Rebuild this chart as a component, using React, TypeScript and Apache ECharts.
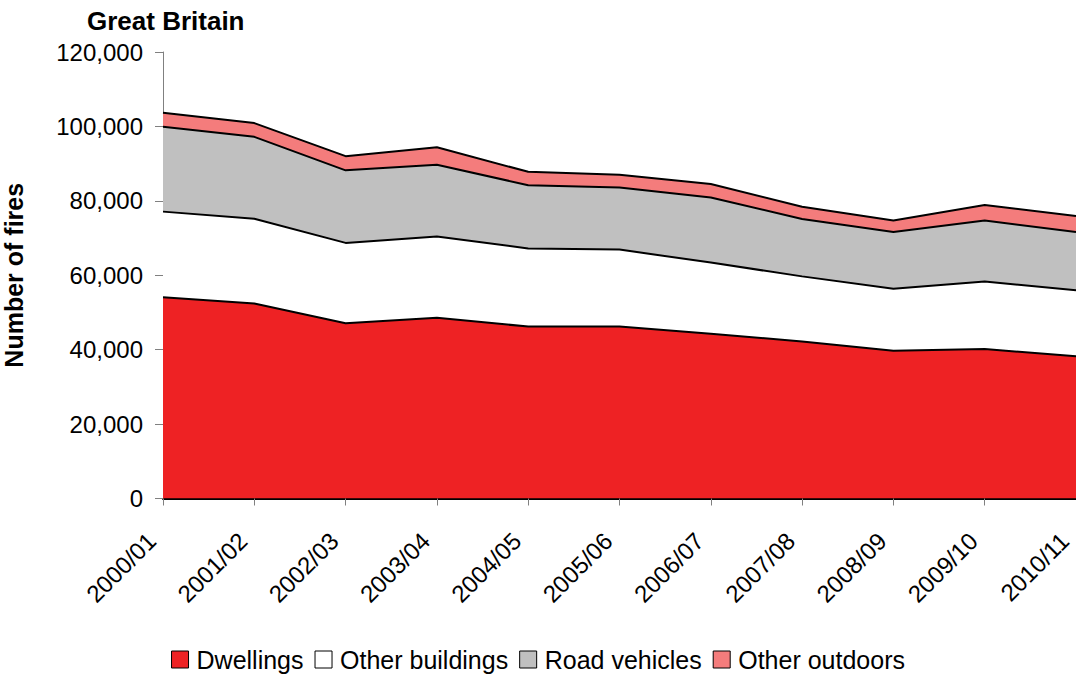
import React, { useEffect, useRef } from "react";
import * as echarts from "echarts";

const categories = ["2000/01", "2001/02", "2002/03", "2003/04", "2004/05", "2005/06", "2006/07", "2007/08", "2008/09", "2009/10", "2010/11"];
const dwellings = [54100, 52400, 47100, 48600, 46200, 46200, 44300, 42200, 39700, 40200, 38200];
const otherBuildings = [23000, 22800, 21600, 21800, 21000, 20700, 19100, 17500, 16700, 18100, 17800];
const roadVehicles = [22800, 22000, 19500, 19300, 17000, 16700, 17500, 15400, 15200, 16400, 15600];
const otherOutdoors = [3800, 3700, 3800, 4700, 3600, 3400, 3600, 3300, 3100, 4200, 4300];

const seriesNames = ["Dwellings", "Other buildings", "Road vehicles", "Other outdoors"];
const seriesColors = ["#EE2224", "#FFFFFF", "#C0C0C0", "#F47C7C"];

const FONT = "'Liberation Sans', Arial, sans-serif";

export default function App() {
  const ref = useRef<HTMLDivElement>(null);
  useEffect(() => {
    if (!ref.current) return;
    const chart = echarts.init(ref.current, undefined, { renderer: "svg" });
    const values = [dwellings, otherBuildings, roadVehicles, otherOutdoors];
    const areaSeries = seriesNames.map((name, i) => ({
      name,
      type: "line",
      stack: "areas",
      data: values[i],
      symbol: "none",
      showSymbol: false,
      color: seriesColors[i],
      itemStyle: { color: seriesColors[i], borderColor: "#000", borderWidth: 1 },
      lineStyle: { width: 0, color: seriesColors[i] },
      areaStyle: { color: seriesColors[i], opacity: 1 },
      z: 2,
    }));
    const lineSeries = seriesNames.map((name, i) => ({
      name: name + " outline",
      type: "line",
      stack: "outlines",
      data: values[i],
      symbol: "none",
      showSymbol: false,
      lineStyle: { color: "#000", width: 2 },
      silent: true,
      z: 3,
    }));
    chart.setOption({
      animation: false,
      backgroundColor: "#FFFFFF",
      textStyle: { fontFamily: FONT },
      title: {
        text: "Great Britain",
        left: 87,
        top: 8,
        padding: 0,
        textStyle: { fontFamily: FONT, fontSize: 26, fontWeight: "bold", color: "#000" },
      },
      legend: {
        top: 642,
        left: "center",
        icon: "rect",
        itemWidth: 17,
        itemHeight: 17,
        itemGap: 11,
        itemStyle: { borderColor: "#000", borderWidth: 1 },
        textStyle: { fontFamily: FONT, fontSize: 25, color: "#000", padding: [0, 0, 0, 3] },
        data: seriesNames,
      },
      grid: { left: 163, top: 52, width: 913, height: 446.5, containLabel: false, outerBoundsMode: "none" },
      xAxis: {
        type: "category",
        data: categories,
        boundaryGap: false,
        axisLine: { show: true, lineStyle: { color: "#000", width: 2 } },
        axisTick: { show: true, alignWithLabel: true, length: 7, lineStyle: { color: "#808080", width: 1 } },
        axisLabel: {
          rotate: 45,
          fontFamily: FONT,
          fontSize: 24,
          color: "#000",
          margin: 27,
          padding: [0, 16, 0, 0],
          interval: 0,
        },
        splitLine: { show: false },
      },
      yAxis: {
        type: "value",
        min: 0,
        max: 120000,
        interval: 20000,
        name: "Number of fires",
        nameLocation: "middle",
        nameGap: 137,
        nameTextStyle: { fontFamily: FONT, fontSize: 25, fontWeight: "bold", color: "#000" },
        axisLine: { show: true, lineStyle: { color: "#808080", width: 1 } },
        axisTick: { show: true, length: 8, lineStyle: { color: "#808080", width: 1 } },
        axisLabel: {
          fontFamily: FONT,
          fontSize: 24,
          color: "#000",
          margin: 20,
          formatter: (v: number) => v.toLocaleString("en-GB"),
        },
        splitLine: { show: false },
      },
      series: [...areaSeries, ...lineSeries],
    });
    return () => chart.dispose();
  }, []);
  return <div ref={ref} style={{ position: "fixed", left: 0, top: 0, width: 1076, height: 675 }} />;
}
